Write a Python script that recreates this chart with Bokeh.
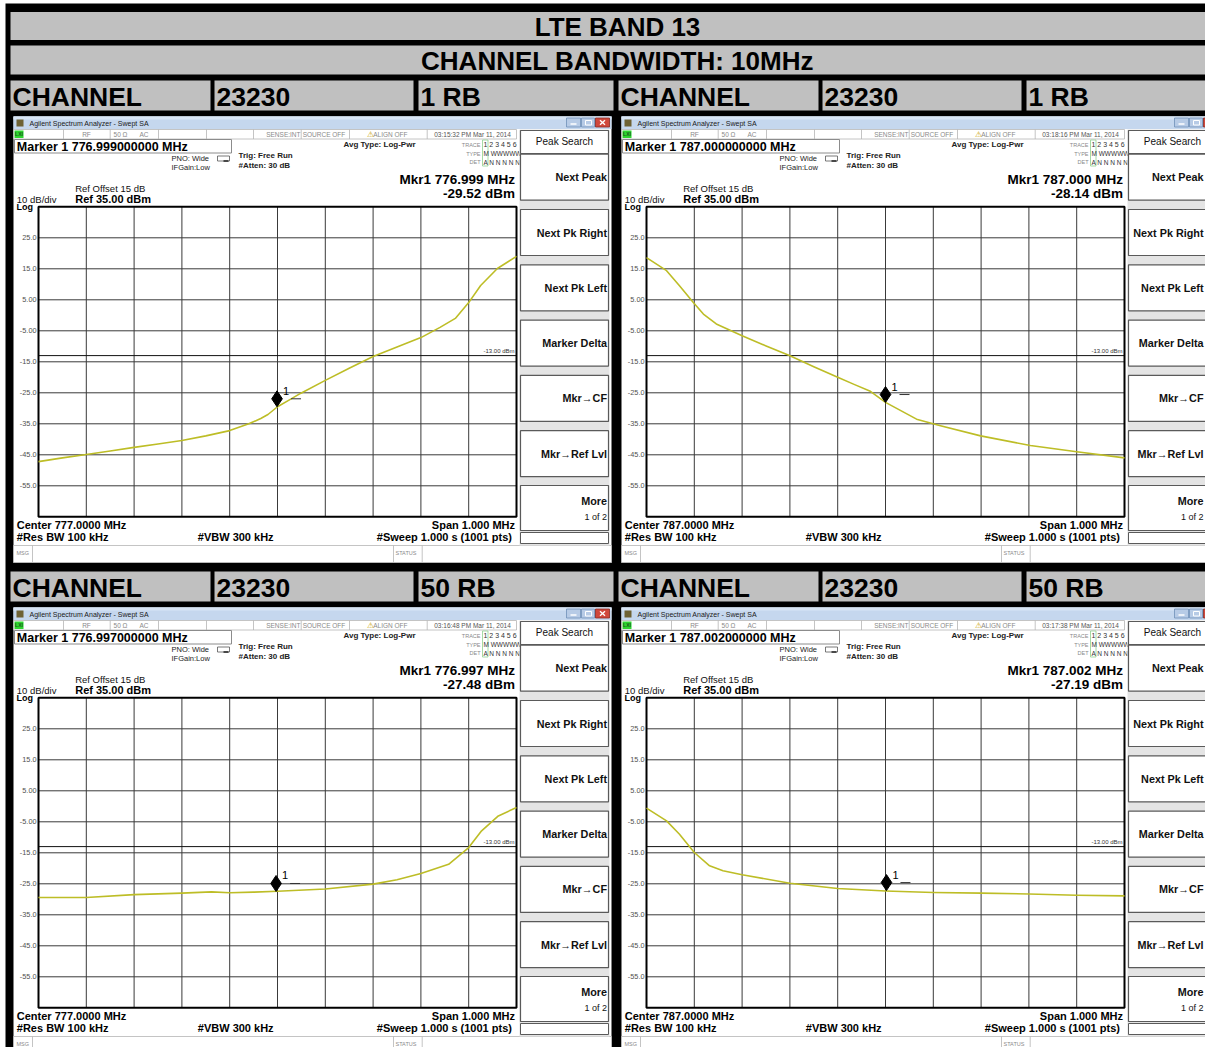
from bokeh.plotting import figure
from bokeh.models import Range1d
from bokeh.core.properties import value
from bokeh.embed import file_html
from bokeh.resources import INLINE

# ---------------- data ----------------
TITLE = "LTE BAND 13"
SUBTITLE = "CHANNEL BANDWIDTH: 10MHz"
ROW_LABEL = "CHANNEL"
CHANNEL_NO = "23230"
RB_ROWS = ["1 RB", "50 RB"]
CENTER_MHZ = [777.0, 787.0]
SPAN_MHZ = 1.0
REF_LEVEL = 35.0
DB_DIV = 10.0
LIMIT_DBM = -13.0
Y_TICK_VALUES = [25, 15, 5, -5, -15, -25, -35, -45, -55]
Y_TICK_LABELS = ["25.0", "15.0", "5.00", "-5.00", "-15.0", "-25.0", "-35.0", "-45.0", "-55.0"]

# traces: offset from centre frequency (kHz) and level (dBm)
rb1_low_khz = [-500, -450, -400, -350, -300, -250, -200, -150, -100, -60, -35, -20, 0, 25, 48,
               100, 150, 200, 250, 300, 340, 372, 400, 425, 460, 500]
rb1_low_dbm = [-47.2, -46.0, -44.9, -43.8, -42.6, -41.5, -40.4, -38.9, -37.2, -35.0, -33.3, -32.0,
               -29.5, -27.3, -25.2, -21.0, -17.1, -13.3, -10.2, -7.2, -3.9, -1.0, 4.1, 9.6, 15.1, 19.0]
rb1_high_khz = [-500, -458, -431, -402, -381, -354, -300, -251, -201, -150, -100, -67, -33, 0,
                65, 115, 199, 303, 400, 500]
rb1_high_dbm = [18.6, 14.4, 9.5, 4.1, 0.4, -2.8, -6.6, -9.8, -13.0, -16.6, -20.0, -22.2, -24.4,
                -28.1, -33.5, -35.6, -38.9, -42.0, -44.0, -46.0]
rb50_low_khz = [-500, -400, -300, -200, -138, -100, -50, 0, 100, 200, 250, 300, 358, 400, 427, 462, 500]
rb50_low_dbm = [-29.4, -29.4, -28.5, -28.0, -27.6, -27.9, -27.7, -27.4, -26.7, -25.1, -23.7, -21.7,
                -18.7, -13.3, -7.9, -3.1, -0.4]
rb50_high_khz = [-500, -458, -431, -400, -368, -340, -300, -200, -100, 0, 100, 200, 300, 400, 500]
rb50_high_dbm = [-0.6, -4.7, -9.0, -14.9, -19.2, -20.8, -22.1, -24.8, -26.5, -27.3, -27.8, -28.0,
                 -28.3, -28.7, -28.9]

TRACES_KHZ = [rb1_low_khz, rb1_high_khz, rb50_low_khz, rb50_high_khz]
TRACES_DBM = [rb1_low_dbm, rb1_high_dbm, rb50_low_dbm, rb50_high_dbm]
MARKER_KHZ = [-1, 0, -3, 2]
MARKER_DBM = [-29.52, -28.14, -27.48, -27.19]
TIMES = ["03:15:32 PM", "03:18:16 PM", "03:16:48 PM", "03:17:38 PM"]
DATE = "Mar 11, 2014"
MENU_ITEMS = ["Next Peak", "Next Pk Right", "Next Pk Left", "Marker Delta", "Mkr\u2192CF", "Mkr\u2192Ref Lvl"]

# ---------------- canvas ----------------
W, H = 1205, 1047
X0, Y0 = 0, 0
p = figure(width=W, height=H, x_range=Range1d(X0, X0 + W), y_range=Range1d(Y0 + H, Y0),
           output_backend="svg", toolbar_location=None, min_border=0,
           x_axis_location=None, y_axis_location=None,
           background_fill_color="white", border_fill_color="white")
p.grid.visible = False
p.outline_line_color = None

FONT = value("Liberation Sans")
TRACE_COLOR = "#BDBD26"
XMAX_TEXT = X0 + W - 2


def txt(x, y, s, size, bold=False, align="left", color="#000000", baseline="middle",
        xr="default", yr="default", xo=0, yo=0):
    p.text(x=[x], y=[y], text=[s], text_font=FONT, text_font_size=f"{size}px",
           text_font_style="bold" if bold else "normal", text_align=align,
           text_baseline=baseline, text_color=color, x_offset=xo, y_offset=yo,
           x_range_name=xr, y_range_name=yr)


def box(l, t, r, b, fill, line=None, lw=1.0, xr="default", yr="default"):
    p.quad(left=[l], right=[r], top=[t], bottom=[b], fill_color=fill, line_color=line,
           line_width=lw, x_range_name=xr, y_range_name=yr)


def seg(xa, ya, xb, yb, color, lw=1.0):
    p.segment(x0=[xa], y0=[ya], x1=[xb], y1=[yb], line_color=color, line_width=lw)


# black table background
box(5, 3, X0 + W, Y0 + H, "#000000")

# header rows
GRAY = "#C0C0C0"
box(10, 11.5, 1213, 39.5, GRAY)
box(10, 45, 1213, 74, GRAY)
txt(617, 26, TITLE, 26, bold=True, align="center")
txt(617, 60, SUBTITLE, 26, bold=True, align="center")

ROW_TOPS = [80, 571]
HALF_DX = [0, 608]
for r, rt in enumerate(ROW_TOPS):
    for h, hx in enumerate(HALF_DX):
        cells = [(10 + hx, 210 + hx), (214 + hx, 413 + hx), (418 + hx, 613 + hx if h == 0 else 1213)]
        labels = [ROW_LABEL, CHANNEL_NO, RB_ROWS[r]]
        for (cl, cr), lab in zip(cells, labels):
            box(cl, rt, cr, rt + 30, GRAY)
            txt(cl + 2, rt + 16, lab, 26.5, bold=True)

# ---------------- analyzer windows ----------------
PX_PER_MHZ = 478.0 / SPAN_MHZ
PX_PER_DB = 310.0 / (10 * DB_DIV)

for i in range(4):
    r, h = divmod(i, 2)
    wx, wy = 13 + HALF_DX[h], 116 + 491 * r
    fc = CENTER_MHZ[h]
    A = lambda dx: wx + dx
    B = lambda dy: wy + dy

    # window body
    box(A(0), B(0), A(598), B(446), "#FFFFFF")
    # title bar
    box(A(0), B(0), A(598), B(12.5), "#C5D7EE")
    box(A(0), B(0), A(598), B(3), "#D8E5F5")
    box(A(3), B(3), A(10), B(10), "#6E6234")
    txt(A(16), B(6.8), "Agilent Spectrum Analyzer - Swept SA", 7, color="#1A1A1A")
    box(A(553), B(1.5), A(567), B(10.5), "#B7CBE6", "#6F8FB8", 0.8)
    box(A(568), B(1.5), A(581), B(10.5), "#B7CBE6", "#6F8FB8", 0.8)
    box(A(582), B(1.5), A(596), B(10.5), "#D0483C", "#8A2A22", 0.8)
    seg(A(557), B(7.5), A(563), B(7.5), "#FFFFFF", 1.5)
    box(A(572), B(4), A(578), B(8.5), None, "#FFFFFF", 1.0)
    seg(A(586.5), B(3.8), A(591.5), B(8.2), "#FFFFFF", 1.4)
    seg(A(586.5), B(8.2), A(591.5), B(3.8), "#FFFFFF", 1.4)

    # status row
    box(A(0), B(13), A(503), B(22.5), "#FFFFFF", "#B5B5B5", 0.8)
    for sx in [50, 96.7, 145, 193, 240, 287.7, 336, 413.7]:
        seg(A(sx), B(13), A(sx), B(22.5), "#B5B5B5", 0.8)
    box(A(1), B(14), A(10), B(21.5), "#2ED52E")
    txt(A(5.5), B(17.8), "LXI", 5, bold=True, align="center", color="#1A5A1A")
    SC = "#8A8A8A"
    txt(A(73), B(17.8), "RF", 6.5, align="center", color=SC)
    txt(A(107), B(17.8), "50 \u03a9", 6.5, align="center", color=SC)
    txt(A(130.5), B(17.8), "AC", 6.5, align="center", color=SC)
    txt(A(287), B(17.8), "SENSE:INT", 6.5, align="right", color=SC)
    txt(A(310.5), B(17.8), "SOURCE OFF", 6.5, align="center", color=SC)
    txt(A(356.5), B(17.8), "\u26a0", 8, align="center", color="#C8A000")
    txt(A(359.7), B(17.8), "ALIGN OFF", 6.5, color=SC)
    txt(A(459), B(17.8), f"{TIMES[i]} {DATE}", 6.5, align="center", color="#555555")

    # marker readout box
    box(A(1), B(23), A(218), B(36.5), "#FFFFFF", "#8C8C8C", 1.0)
    mkr_f = fc + MARKER_KHZ[i] / 1000.0
    txt(A(3.3), B(30), f"Marker 1 {mkr_f:.9f} MHz", 12.5, bold=True)
    txt(A(158), B(41.5), "PNO: Wide", 7.5, color="#222222")
    txt(A(158), B(50.5), "IFGain:Low", 7.5, color="#222222")
    box(A(204), B(39.5), A(216), B(44.5), None, "#555555", 0.8)
    seg(A(210), B(44.5), A(215), B(44.5), "#222222", 1.5)
    txt(A(225), B(38.5), "Trig: Free Run", 8, bold=True, color="#222222")
    txt(A(225), B(49), "#Atten: 30 dB", 8, bold=True, color="#222222")
    txt(A(330), B(28.3), "Avg Type: Log-Pwr", 8, bold=True, color="#222222")
    txt(A(467), B(28.3), "TRACE", 5.5, align="right", color=SC)
    txt(A(467), B(37.3), "TYPE", 5.5, align="right", color=SC)
    txt(A(467), B(45.8), "DET", 5.5, align="right", color=SC)
    box(A(469), B(23.5), A(474.5), B(49.5), None, "#8FD08F", 0.8)
    txt(A(470), B(28.3), "1 2 3 4 5 6", 7, color="#333333")
    txt(A(470), B(37.3), "M WWWWW", 6.5, color="#333333")
    txt(A(470), B(45.8), "A N N N N N", 6.5, color="#333333")
    txt(A(501.5), B(63), f"Mkr1 {mkr_f:.3f} MHz", 13.5, bold=True, align="right")
    txt(A(501.5), B(76.5), f"{MARKER_DBM[i]:.2f} dBm", 13.5, bold=True, align="right")
    txt(A(61.7), B(71.5), "Ref Offset 15 dB", 9.5, color="#111111")
    txt(A(3.3), B(83), "10 dB/div", 9.5, color="#111111")
    txt(A(61.7), B(82.3), f"Ref {REF_LEVEL:.2f} dBm", 11, bold=True)
    txt(A(3), B(90.5), "Log", 9, bold=True)

    # bottom readouts
    txt(A(3.3), B(408), f"Center {fc:.4f} MHz", 11, bold=True)
    txt(A(3.3), B(420.5), "#Res BW 100 kHz", 11, bold=True)
    txt(A(184.3), B(420.5), "#VBW 300 kHz", 11, bold=True)
    txt(A(501.5), B(408), f"Span {SPAN_MHZ:.3f} MHz", 11, bold=True, align="right")
    txt(A(501.5), B(420.5), "#Sweep  1.000 s (1001 pts)", 11, bold=True, align="right")
    # status bar
    box(A(0), B(429), A(598), B(446), "#FFFFFF", "#B5B5B5", 0.8)
    for sx in [19, 380, 408.7]:
        seg(A(sx), B(429), A(sx), B(446), "#B5B5B5", 0.8)
    txt(A(3), B(436), "MSG", 5.5, color=SC)
    txt(A(382), B(436), "STATUS", 5.5, color=SC)

    # softkey menu
    box(A(506), B(13), A(596), B(429), "#E4E4E4")
    box(A(507), B(14), A(595), B(37), "#FFFFFF", "#5A5A5A", 1.2)
    txt(min(A(551), XMAX_TEXT - 30), B(24.5), "Peak Search", 10, align="center", color="#111111")
    kx = min(A(593.5), XMAX_TEXT)
    for k, item in enumerate(MENU_ITEMS):
        cy = 60.7 + 55.3 * k
        box(A(507), B(cy - 23), A(595), B(cy + 23), "#FFFFFF", "#5A5A5A", 1.2)
        txt(kx, B(cy), item, 10.8, bold=True, align="right", color="#111111")
    box(A(507), B(369), A(595), B(414), "#FFFFFF", "#5A5A5A", 1.2)
    txt(kx, B(384.7), "More", 10.8, bold=True, align="right", color="#111111")
    txt(kx, B(400.5), "1 of 2", 9, align="right", color="#111111")
    box(A(507), B(416), A(595), B(427), "#FFFFFF", "#5A5A5A", 1.0)

    # ---------- graticule in data units ----------
    gx0 = A(25.0)
    gy0 = B(90.3)
    f_start = fc - SPAN_MHZ / 2 - (gx0 - X0) / PX_PER_MHZ
    d_top = REF_LEVEL + (gy0 - Y0) / PX_PER_DB
    d_bot = REF_LEVEL - (Y0 + H - gy0) / PX_PER_DB
    xr, yr = f"f{i}", f"d{i}"
    p.extra_x_ranges[xr] = Range1d(f_start, f_start + W / PX_PER_MHZ)
    p.extra_y_ranges[yr] = Range1d(d_bot, d_top)

    f_lo, f_hi = fc - SPAN_MHZ / 2, fc + SPAN_MHZ / 2
    d_lo = REF_LEVEL - 10 * DB_DIV
    box(f_lo, REF_LEVEL, f_hi, d_lo, "#FFFFFF", xr=xr, yr=yr)
    vx = [fc + SPAN_MHZ * k / 10 for k in range(-4, 5)]
    p.segment(x0=vx, y0=[d_lo] * 9, x1=vx, y1=[REF_LEVEL] * 9, line_color="#3A3A3A",
              line_width=1, x_range_name=xr, y_range_name=yr)
    p.segment(x0=[f_lo] * 9, y0=Y_TICK_VALUES, x1=[f_hi] * 9, y1=Y_TICK_VALUES,
              line_color="#3A3A3A", line_width=1, x_range_name=xr, y_range_name=yr)
    p.segment(x0=[f_lo], y0=[LIMIT_DBM], x1=[f_hi], y1=[LIMIT_DBM], line_color="#111111",
              line_width=1, x_range_name=xr, y_range_name=yr)
    box(f_lo, REF_LEVEL, f_hi, d_lo, None, "#000000", 2.0, xr=xr, yr=yr)
    p.text(x=[f_lo] * 9, y=Y_TICK_VALUES, text=Y_TICK_LABELS, text_font=FONT,
           text_font_size="7.3px", text_align="right", text_baseline="middle",
           text_color="#505050", x_offset=-2, x_range_name=xr, y_range_name=yr)
    txt(f_hi, LIMIT_DBM, f"{LIMIT_DBM:.2f} dBm", 6, align="right", baseline="bottom",
        color="#333333", xr=xr, yr=yr, xo=-2, yo=-1.5)

    # trace
    p.line(x=[fc + k / 1000.0 for k in TRACES_KHZ[i]], y=TRACES_DBM[i], line_color=TRACE_COLOR,
           line_width=1.6, line_join="round", x_range_name=xr, y_range_name=yr)

    # marker 1
    dpx = 1.0 / PX_PER_DB
    fpx = 1.0 / PX_PER_MHZ
    p.scatter(x=[mkr_f], y=[MARKER_DBM[i] + 8 * dpx], marker="diamond", size=16,
              fill_color="#000000", line_color="#000000", x_range_name=xr, y_range_name=yr)
    txt(mkr_f, MARKER_DBM[i], "1", 11, xr=xr, yr=yr, xo=6, yo=-16)
    p.segment(x0=[mkr_f + 14 * fpx], y0=[MARKER_DBM[i] + 8 * dpx], x1=[mkr_f + 24 * fpx],
              y1=[MARKER_DBM[i] + 8 * dpx], line_color="#333333", line_width=1,
              x_range_name=xr, y_range_name=yr)

open("out.html", "w").write(file_html(p, INLINE))
